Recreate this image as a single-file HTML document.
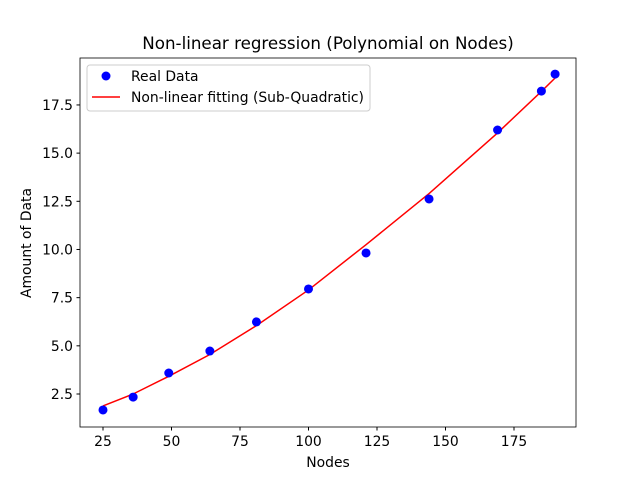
<!DOCTYPE html>
<html><head><meta charset="utf-8"><style>
body{margin:0;background:#fff}
svg{display:block;font-family:"DejaVu Sans","Liberation Sans",sans-serif}
</style></head><body>
<svg id="chart" width="640" height="480">
<rect width="640" height="480" fill="#fff"/>
<text x="328" y="49" font-size="16.7" text-anchor="middle">Non-linear regression (Polynomial on Nodes)</text>
<g id="xt"></g><g id="yt"></g>
<polyline id="fit" fill="none" stroke="#ff0000" stroke-width="1.5"/>
<g id="pts"></g>
<rect x="80" y="58" width="496" height="369" fill="none" stroke="#000" stroke-width="0.8"/>
<text x="328" y="467" font-size="13.9" text-anchor="middle">Nodes</text>
<text transform="translate(31,243) rotate(-90)" font-size="13.9" text-anchor="middle">Amount of Data</text>
<g>
<rect x="87" y="65" width="283" height="46" rx="3" fill="#fff" fill-opacity="0.8" stroke="#ccc"/>
<circle cx="106" cy="76" r="4.5" fill="#0000ff"/>
<text x="131" y="81" font-size="13.9">Real Data</text>
<line x1="92" y1="97" x2="120" y2="97" stroke="#ff0000" stroke-width="1.5"/>
<text x="131" y="102" font-size="13.9">Non-linear fitting (Sub-Quadratic)</text>
</g>
</svg>
<script>
const nodes=[25,36,49,64,81,100,121,144,169,185,190];
const realData=[1.67,2.34,3.59,4.73,6.24,7.95,9.82,12.62,16.2,18.22,19.1];
const fitData=[1.88,2.5,3.42,4.55,6.05,7.9,10.25,12.9,16.05,18.2,18.9];
const xTicks=[25,50,75,100,125,150,175];
const yTicks=[2.5,5.0,7.5,10.0,12.5,15.0,17.5];
const NS="http://www.w3.org/2000/svg";
const X=v=>103+(v-25)*2.74, Y=v=>394-(v-2.5)*19.27;
const xt=document.getElementById('xt'),yt=document.getElementById('yt');
xTicks.forEach(t=>{const l=document.createElementNS(NS,'line');l.setAttribute('x1',X(t));l.setAttribute('x2',X(t));l.setAttribute('y1',427);l.setAttribute('y2',430.5);l.setAttribute('stroke','#000');

xt.appendChild(l);
const s=document.createElementNS(NS,'text');s.setAttribute('x',X(t));s.setAttribute('y',446);s.setAttribute('font-size','13.9');s.setAttribute('text-anchor','middle');s.textContent=t;

xt.appendChild(s);});
yTicks.forEach(t=>{const l=document.createElementNS(NS,'line');l.setAttribute('x1',76.5);l.setAttribute('x2',80);l.setAttribute('y1',Y(t));l.setAttribute('y2',Y(t));l.setAttribute('stroke','#000');

yt.appendChild(l);
const s=document.createElementNS(NS,'text');s.setAttribute('x',73);s.setAttribute('y',Y(t)+5);s.setAttribute('font-size','13.9');s.setAttribute('text-anchor','end');s.textContent=t.toFixed(1);

yt.appendChild(s);});
document.getElementById('fit').setAttribute('points',nodes.map((n,i)=>X(n)+','+Y(fitData[i])).join(' '));
const pts=document.getElementById('pts');
nodes.forEach((n,i)=>{const c=document.createElementNS(NS,'circle');c.setAttribute('cx',X(n));c.setAttribute('cy',Y(realData[i]));c.setAttribute('r',4.5);c.setAttribute('fill','#0000ff');

pts.appendChild(c);});
</script>
</body></html>
